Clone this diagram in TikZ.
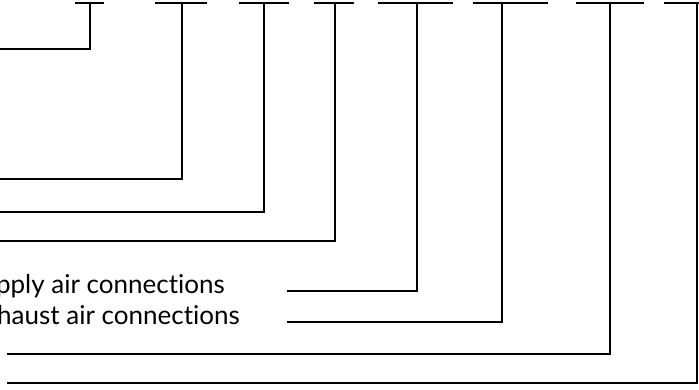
\documentclass[tikz,border=0pt]{standalone}
\usepackage{fontspec}
\setmainfont{Lato}[Ligatures=NoCommon]
\begin{document}
\begin{tikzpicture}[x=1pt,y=-1pt,
  conn/.style={draw,line width=1.6pt,line join=miter},
  bar/.style={draw,line width=1.6pt},
  lbl/.style={font=\fontsize{26}{30}\selectfont,anchor=base east,inner sep=0pt}]
\useasboundingbox (0,0) rectangle (699,390);
\clip (0,0) rectangle (699,390);
% top bars (T heads)
\coordinate (t1) at (90,3);  \coordinate (t2) at (182,3);
\coordinate (t3) at (264,3); \coordinate (t4) at (335,3);
\coordinate (t5) at (417,3); \coordinate (t6) at (502,3);
\coordinate (t7) at (610,3); \coordinate (t8) at (697,3);
\draw[bar] (75,3) -- (104,3);
\draw[bar] (155,3) -- (207,3);
\draw[bar] (239,3) -- (289,3);
\draw[bar] (314,3) -- (354,3);
\draw[bar] (378,3) -- (453,3);
\draw[bar] (473,3) -- (548,3);
\draw[bar] (576,3) -- (644,3);
\draw[bar] (664,3) -- (730,3);
% free ends
\coordinate (e1) at (-10,49);
\coordinate (e2) at (-10,179);
\coordinate (e3) at (-10,212);
\coordinate (e4) at (-10,241);
\coordinate (e5) at (287,291);
\coordinate (e6) at (287,322);
\coordinate (e7) at (7,354);
\coordinate (e8) at (7,383);
% labels
\node[lbl] (sup) at (225,293) {Supply air connections};
\node[lbl] (exh) at (240,324) {Exhaust air connections};
% connectors
\path[conn] (e1) -| (t1);
\path[conn] (e2) -| (t2);
\path[conn] (e3) -| (t3);
\path[conn] (e4) -| (t4);
\path[conn] (e5) -| (t5);
\path[conn] (e6) -| (t6);
\path[conn] (e7) -| (t7);
\path[conn] (e8) -| (t8);
\end{tikzpicture}
\end{document}
